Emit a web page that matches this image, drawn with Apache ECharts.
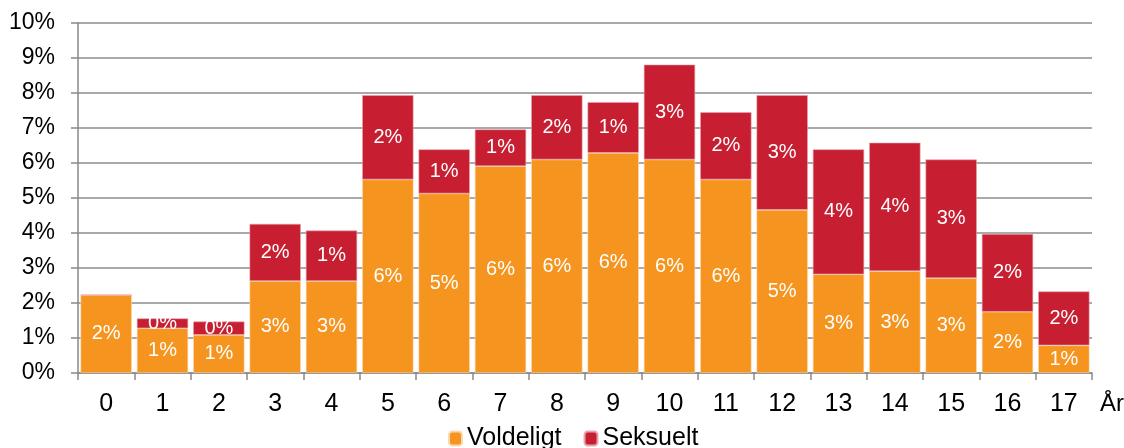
<!DOCTYPE html>
<html>
<head>
<meta charset="utf-8">
<script src="https://cdn.jsdelivr.net/npm/echarts@6/dist/echarts.min.js"></script>
<style>
html,body{margin:0;padding:0;background:#fff;}
#chart{width:1124px;height:448px;}
</style>
</head>
<body>
<div id="chart"></div>
<script>
const categories = ['0','1','2','3','4','5','6','7','8','9','10','11','12','13','14','15','16','17'];
const voldeligt = [2.23,1.28,1.09,2.63,2.63,5.53,5.13,5.91,6.10,6.29,6.10,5.53,4.66,2.82,2.91,2.71,1.75,0.79];
const seksuelt  = [0,0.28,0.38,1.63,1.44,2.41,1.26,1.05,1.84,1.45,2.71,1.92,3.28,3.57,3.67,3.39,2.22,1.54];
const yTicks = [0,1,2,3,4,5,6,7,8,9,10];

const FONT = '"Liberation Sans", Arial, sans-serif';
const chart = echarts.init(document.getElementById('chart'));
const labelOpt = {
  show: true,
  position: 'inside',
  color: '#fff',
  fontFamily: FONT,
  fontSize: 20,
  formatter: p => p.value > 0 ? Math.round(p.value) + '%' : ''
};
chart.setOption({
  animation: false,
  grid: {left: 78, right: 32, top: 23, bottom: 75, containLabel: false, outerBoundsMode: 'none'},
  legend: {
    left: 443, top: 421,
    itemWidth: 13, itemHeight: 14, itemGap: 22,
    textStyle: {fontFamily: FONT, fontSize: 25, color: '#000'},
    data: ['Voldeligt','Seksuelt']
  },
  xAxis: {
    type: 'category',
    data: categories,
    name: 'År',
    nameLocation: 'end',
    nameGap: 8,
    nameTextStyle: {fontFamily: FONT, fontSize: 24, color: '#000', verticalAlign: 'top', padding: [19,0,0,0]},
    axisLine: {lineStyle: {color: '#898989', width: 1.5}},
    axisTick: {show: true, alignWithLabel: false, length: 7, lineStyle: {color: '#898989', width: 1.5}},
    axisLabel: {fontFamily: FONT, fontSize: 25, color: '#000', margin: 19}
  },
  yAxis: {
    type: 'value',
    min: yTicks[0], max: yTicks[yTicks.length-1], interval: 1,
    axisLine: {show: true, lineStyle: {color: '#898989', width: 1.5}},
    axisTick: {show: true, length: 7, lineStyle: {color: '#898989', width: 1.5}},
    axisLabel: {fontFamily: FONT, fontSize: 23, color: '#000', margin: 23, formatter: v => v + '%'},
    splitLine: {lineStyle: {color: '#8c8c8c', width: 1.5}}
  },
  series: [
    {name: 'Voldeligt', type: 'bar', stack: 'a', data: voldeligt, barCategoryGap: '9%',
     itemStyle: {color: '#F5951F', borderColor: '#fbd9b0', borderWidth: 0.6}, label: labelOpt},
    {name: 'Seksuelt', type: 'bar', stack: 'a', data: seksuelt, barCategoryGap: '9%',
     itemStyle: {color: '#C71F31', borderColor: '#e8a3ab', borderWidth: 0.6}, label: labelOpt}
  ]
});
</script>
</body>
</html>
